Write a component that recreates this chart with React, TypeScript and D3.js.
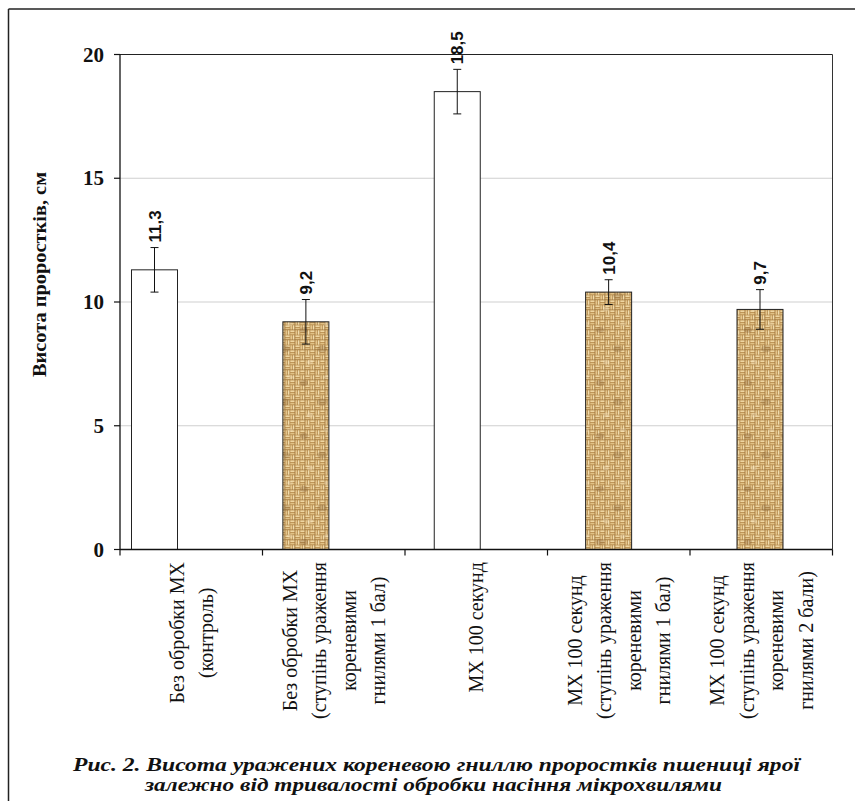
import React from "react";
import * as d3 from "d3";

const categories: string[][] = [
  ["Без обробки МХ", "(контроль)"],
  ["Без обробки МХ", "(ступінь ураження", "кореневими", "гнилями 1 бал)"],
  ["МХ 100 секунд"],
  ["МХ 100 секунд", "(ступінь ураження", "кореневими", "гнилями 1 бал)"],
  ["МХ 100 секунд", "(ступінь ураження", "кореневими", "гнилями 2 бали)"],
];
const values = [11.3, 9.2, 18.5, 10.4, 9.7];
const errors = [0.9, 0.9, 0.9, 0.5, 0.8];
const valueLabels = ["11,3", "9,2", "18,5", "10,4", "9,7"];
const textured = [false, true, false, true, true];
const yTicks = [0, 5, 10, 15, 20];
const yTitle = "Висота проростків, см";
const captionLines = [
  "Рис. 2. Висота уражених кореневою гниллю проростків пшениці ярої",
  "залежно від тривалості обробки насіння мікрохвилями",
];

const W = 855;
const H = 801;
const plot = { left: 120, right: 832.5, top: 54.5, bottom: 549.5 };
const LABEL_FONT = 20;
const SERIF = "'Liberation Serif', 'Times New Roman', serif";

let measureCtx: CanvasRenderingContext2D | null = null;
function measure(text: string, font: string): number {
  if (!measureCtx) {
    const c = document.createElement("canvas");
    measureCtx = c.getContext("2d");
  }
  if (!measureCtx) return text.length * 9;
  measureCtx.font = font;
  return measureCtx.measureText(text).width;
}

function Weave() {
  const blocks = [
    { x: 0, y: 0, h: true },
    { x: 5, y: 0, h: false },
    { x: 0, y: 5, h: false },
    { x: 5, y: 5, h: true },
  ];
  return (
    <g>
      <rect x="0" y="0" width="10" height="10" fill="#b58a4c" />
      {blocks.map((b, i) =>
        b.h ? (
          <g key={i}>
            <rect x={b.x + 0.3} y={b.y + 0.4} width={4.4} height={1.6} fill="#eed6a2" />
            <rect x={b.x + 0.3} y={b.y + 2.8} width={4.4} height={1.6} fill="#e1c185" />
          </g>
        ) : (
          <g key={i}>
            <rect x={b.x + 0.4} y={b.y + 0.3} width={1.6} height={4.4} fill="#e4c68c" />
            <rect x={b.x + 2.8} y={b.y + 0.3} width={1.6} height={4.4} fill="#f0dcad" />
          </g>
        )
      )}
      <rect x="4.6" y="0" width="0.6" height="10" fill="#8a5f31" opacity="0.5" />
      <rect x="0" y="9.5" width="10" height="0.5" fill="#8a5f31" opacity="0.45" />
    </g>
  );
}

export default function App() {
  const keys = categories.map((_, i) => String(i));
  const y = d3.scaleLinear().domain([0, 20]).range([plot.bottom, plot.top]);
  const xBand = d3.scaleBand().domain(keys).range([plot.left, plot.right]);
  const xBar = d3.scalePoint().domain(keys).range([154.5, 760]);
  const barW = 46;
  const bandEdges = [...keys.map((k) => xBand(k) as number), plot.right];

  return (
    <svg
      width={W}
      height={H}
      style={{ position: "absolute", left: 0, top: 0, background: "#fff" }}
      xmlns="http://www.w3.org/2000/svg"
    >
      <defs>
        <pattern id="burlap" patternUnits="userSpaceOnUse" width="10" height="10">
          <Weave />
        </pattern>
        <pattern id="blotch" patternUnits="userSpaceOnUse" width="37" height="53">
          <ellipse cx="8" cy="12" rx="4" ry="3" fill="#6e4820" opacity="0.25" />
          <ellipse cx="26" cy="31" rx="5" ry="3.5" fill="#6e4820" opacity="0.22" />
          <ellipse cx="14" cy="44" rx="3" ry="2.5" fill="#fff3d6" opacity="0.3" />
          <ellipse cx="31" cy="6" rx="3" ry="2" fill="#fff3d6" opacity="0.25" />
        </pattern>
      </defs>

      {/* outer frame (top and left) */}
      <line x1={8.5} y1={9} x2={W} y2={9} stroke="#222" strokeWidth={1.5} />
      <line x1={8.5} y1={9} x2={8.5} y2={H} stroke="#222" strokeWidth={1.5} />

      {/* gridlines */}
      {yTicks
        .filter((t) => t > 0 && t < 20)
        .map((t) => (
          <line key={"g" + t} x1={plot.left} x2={plot.right} y1={y(t)} y2={y(t)} stroke="#cfcfcf" strokeWidth={1.2} />
        ))}
      {/* plot frame top and right */}
      <line x1={plot.left} x2={plot.right} y1={y(20)} y2={y(20)} stroke="#222" strokeWidth={1} />
      <line x1={plot.right} x2={plot.right} y1={y(20)} y2={y(0)} stroke="#333" strokeWidth={1} />

      {/* bars */}
      {values.map((v, i) => {
        const cx = xBar(keys[i]) as number;
        const bx = cx - barW / 2;
        const by = y(v);
        const bh = y(0) - y(v);
        return (
          <g key={"b" + i}>
            <rect x={bx} y={by} width={barW} height={bh} fill={textured[i] ? "url(#burlap)" : "#fff"} />
            {textured[i] && <rect x={bx} y={by} width={barW} height={bh} fill="url(#blotch)" />}
            <rect x={bx} y={by} width={barW} height={bh} fill="none" stroke="#222" strokeWidth={1} />
          </g>
        );
      })}

      {/* error bars */}
      {values.map((v, i) => {
        const cx = xBar(keys[i]) as number;
        const t = y(v + errors[i]);
        const b = y(v - errors[i]);
        return (
          <g key={"e" + i} stroke="#111" strokeWidth={1}>
            <line x1={cx} x2={cx} y1={t} y2={b} />
            <line x1={cx - 4} x2={cx + 4} y1={t} y2={t} />
            <line x1={cx - 4} x2={cx + 4} y1={b} y2={b} />
          </g>
        );
      })}

      {/* value labels */}
      {values.map((v, i) => {
        const cx = xBar(keys[i]) as number;
        const t = y(v + errors[i]) - 5;
        return (
          <text
            key={"v" + i}
            transform={`translate(${cx + 6},${t}) rotate(-90)`}
            fontFamily="'Liberation Sans', Arial, sans-serif"
            fontWeight="bold"
            fontSize={17}
            fill="#111"
          >
            {valueLabels[i]}
          </text>
        );
      })}

      {/* axes */}
      <line x1={plot.left} x2={plot.left} y1={y(20)} y2={y(0)} stroke="#111" strokeWidth={1.3} />
      <line x1={plot.left} x2={plot.right} y1={y(0)} y2={y(0)} stroke="#111" strokeWidth={1.3} />
      {yTicks.map((t) => (
        <g key={"t" + t}>
          <line x1={plot.left - 6} x2={plot.left} y1={y(t)} y2={y(t)} stroke="#111" strokeWidth={1.2} />
          <text x={104} y={y(t) + 7} textAnchor="end" fontFamily={SERIF} fontWeight="bold" fontSize={21} fill="#111">
            {t}
          </text>
        </g>
      ))}
      {bandEdges.map((x, i) => (
        <line key={"xt" + i} x1={x} x2={x} y1={y(0)} y2={y(0) + 6} stroke="#111" strokeWidth={1.2} />
      ))}

      {/* category labels */}
      {categories.map((lines, i) => {
        const center = (xBand(keys[i]) as number) + xBand.bandwidth() / 2;
        const font = `${LABEL_FONT}px "Liberation Serif"`;
        const maxLen = Math.max(...lines.map((l) => measure(l, font)));
        const cy = 562 + maxLen / 2;
        const n = lines.length;
        return (
          <g key={"c" + i}>
            {lines.map((l, j) => {
              const bx = center + (j - (n - 1) / 2) * 29.5 + 7;
              return (
                <text
                  key={j}
                  transform={`translate(${bx},${cy}) rotate(-90)`}
                  textAnchor="middle"
                  fontFamily={SERIF}
                  fontSize={LABEL_FONT}
                  fill="#111"
                >
                  {l}
                </text>
              );
            })}
          </g>
        );
      })}

      {/* y axis title */}
      <text
        transform={`translate(46,274.5) rotate(-90)`}
        textAnchor="middle"
        fontFamily={SERIF}
        fontWeight="bold"
        fontSize={19}
        fill="#111"
        textLength={205}
        lengthAdjust="spacingAndGlyphs"
      >
        {yTitle}
      </text>

      {/* caption */}
      <text
        x={436.5}
        y={770.5}
        textAnchor="middle"
        fontFamily={SERIF}
        fontWeight="bold"
        fontStyle="italic"
        fontSize={19}
        fill="#111"
        textLength={727}
        lengthAdjust="spacingAndGlyphs"
      >
        {captionLines[0]}
      </text>
      <text
        x={433.5}
        y={790.5}
        textAnchor="middle"
        fontFamily={SERIF}
        fontWeight="bold"
        fontStyle="italic"
        fontSize={19}
        fill="#111"
        textLength={577}
        lengthAdjust="spacingAndGlyphs"
      >
        {captionLines[1]}
      </text>
    </svg>
  );
}
